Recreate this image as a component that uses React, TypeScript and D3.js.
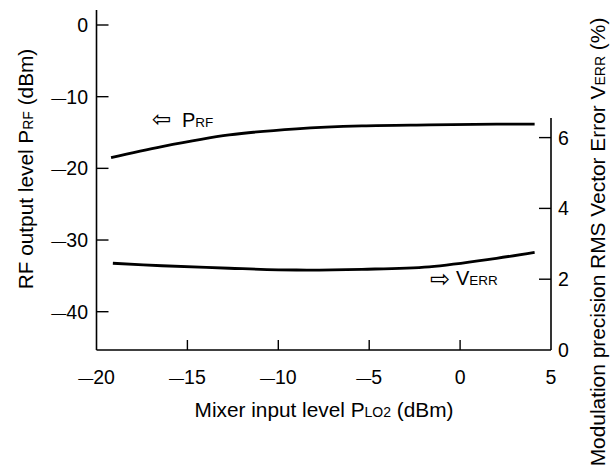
import React from "react";
import * as d3 from "d3";

const xTicks = [-20, -15, -10, -5, 0, 5];
const yLeftTicks = [0, -10, -20, -30, -40];
const yRightTicks = [0, 2, 4, 6];

const prfX = [-19.2, -16.4, -12.7, -9.0, -5.4, -1.7, 2.0, 4.1];
const prfY = [-18.5, -16.96, -15.33, -14.49, -14.08, -13.94, -13.84, -13.84];

const verrX = [-19.1, -16.4, -12.7, -9.0, -5.4, -1.7, 2.0, 4.1];
const verrY = [2.45, 2.38, 2.31, 2.26, 2.28, 2.35, 2.59, 2.76];

const FONT = "'Liberation Sans', Arial, sans-serif";
const FS = 19.5;

function NumLabel({ v, ...rest }: any) {
  if (v < 0) {
    return (
      <text {...rest}>
        <tspan fontSize={15} dy={-1}>—</tspan>
        <tspan dy={1}>{String(Math.abs(v))}</tspan>
      </text>
    );
  }
  return <text {...rest}>{String(v)}</text>;
}

export default function App() {
  const x = d3.scaleLinear().domain([-20, 5]).range([96.5, 551]);
  const yL = d3.scaleLinear().domain([-40, 0]).range([311.7, 25]);
  const yR = d3.scaleLinear().domain([0, 6]).range([350, 137.6]);

  const lineL = d3
    .line<number>()
    .x((_, i) => x(prfX[i]))
    .y((d) => yL(d))
    .curve(d3.curveCatmullRom.alpha(0.5));
  const lineR = d3
    .line<number>()
    .x((_, i) => x(verrX[i]))
    .y((d) => yR(d))
    .curve(d3.curveCatmullRom.alpha(0.5));

  const x0 = x(-20);
  const x1 = x(5);
  const yBottom = 350;

  return (
    <svg
      width={612}
      height={465}
      style={{ position: "absolute", left: 0, top: 0, background: "#fff" }}
      fontFamily={FONT}
      fontSize={FS}
      fill="#000"
    >
      <rect width={612} height={465} fill="#fff" />
      {/* axes lines */}
      <line x1={x0} x2={x0} y1={10} y2={yBottom} stroke="#000" strokeWidth={1.6} />
      <line x1={x0} x2={x1} y1={yBottom} y2={yBottom} stroke="#000" strokeWidth={1.6} />
      <line x1={x1} x2={x1} y1={118} y2={yBottom} stroke="#000" strokeWidth={1.6} />

      {/* left ticks */}
      {yLeftTicks.map((t) => (
        <g key={"l" + t}>
          <line x1={x0} x2={x0 + 12} y1={yL(t)} y2={yL(t)} stroke="#000" strokeWidth={1.4} />
          <NumLabel v={t} x={88} y={yL(t) + 7} textAnchor="end" />
        </g>
      ))}
      {/* right ticks */}
      {yRightTicks.map((t) => (
        <g key={"r" + t}>
          {t !== 0 && (
            <line x1={x1 - 12} x2={x1} y1={yR(t)} y2={yR(t)} stroke="#000" strokeWidth={1.4} />
          )}
          <NumLabel v={t} x={558} y={yR(t) + 7} textAnchor="start" />
        </g>
      ))}
      {/* bottom ticks */}
      {xTicks.map((t) => (
        <g key={"b" + t}>
          {t !== -20 && t !== 5 && (
            <line x1={x(t)} x2={x(t)} y1={yBottom} y2={yBottom - 10} stroke="#000" strokeWidth={1.4} />
          )}
          <NumLabel v={t} x={x(t)} y={383.5} textAnchor="middle" />
        </g>
      ))}

      {/* curves */}
      <path d={lineL(prfY) || ""} fill="none" stroke="#000" strokeWidth={2.8} />
      <path d={lineR(verrY) || ""} fill="none" stroke="#000" strokeWidth={2.8} />

      {/* annotations */}
      <text x={152} y={127} fontFamily="'DejaVu Sans'" fontSize={23}>⇦</text>
      <text x={182} y={126.5} fontSize={20}>
        P<tspan fontSize={13.5}>RF</tspan>
      </text>
      <text x={430} y={287} fontFamily="'DejaVu Sans'" fontSize={24}>⇨</text>
      <text x={456} y={285} fontSize={20}>
        V<tspan fontSize={13.5}>ERR</tspan>
      </text>

      {/* axis titles */}
      <text x={324} y={416.5} textAnchor="middle" fontSize={20.8}>
        Mixer input level P<tspan fontSize={14}>LO2</tspan> (dBm)
      </text>
      <text
        transform="translate(33,169) rotate(-90)"
        textAnchor="middle"
        fontSize={20.8}
      >
        RF output level P<tspan fontSize={14}>RF</tspan> (dBm)
      </text>
      <text
        transform="translate(605,242) rotate(-90)"
        textAnchor="middle"
        fontSize={20.9}
      >
        Modulation precision RMS Vector Error V<tspan fontSize={14}>ERR</tspan> (%)
      </text>
    </svg>
  );
}
